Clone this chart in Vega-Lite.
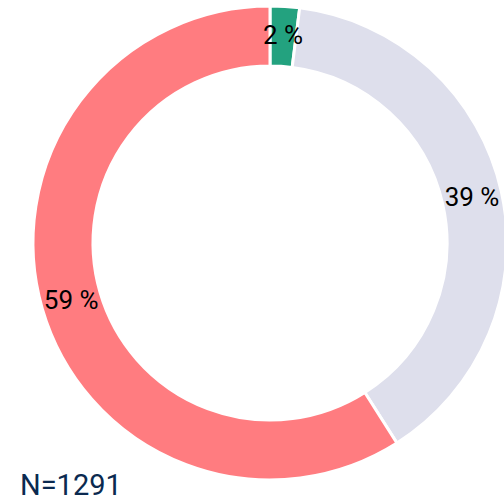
{
  "$schema": "https://vega.github.io/schema/vega-lite/v6.json",
  "width": 540,
  "height": 486,
  "autosize": "none",
  "padding": {"top": 0, "left": 0, "right": 0, "bottom": 16},
  "background": "white",
  "title": {
    "text": "N=1291",
    "orient": "bottom",
    "anchor": "start",
    "baseline": "alphabetic",
    "offset": 9,
    "dx": 20,
    "font": "Roboto",
    "fontSize": 29,
    "fontWeight": "normal",
    "color": "#0b2a50"
  },
  "data": {
    "values": [
      {"category": "A", "value": 2, "label": "2 %", "ord": 1},
      {"category": "B", "value": 39, "label": "39 %", "ord": 2},
      {"category": "C", "value": 59, "label": "59 %", "ord": 3}
    ]
  },
  "encoding": {
    "theta": {"field": "value", "type": "quantitative", "stack": true},
    "order": {"field": "ord", "type": "quantitative"}
  },
  "layer": [
    {
      "mark": {"type": "arc", "outerRadius": 237, "innerRadius": 177, "stroke": "white", "strokeWidth": 3},
      "encoding": {
        "color": {
          "field": "category",
          "type": "nominal",
          "scale": {"domain": ["A", "B", "C"], "range": ["#23a27f", "#dedfec", "#ff7c80"]},
          "legend": null
        }
      }
    },
    {
      "mark": {"type": "text", "radius": 207, "font": "Roboto", "fontSize": 26, "color": "black"},
      "encoding": {
        "text": {"field": "label"}
      }
    }
  ],
  "config": {"view": {"stroke": null}}
}
